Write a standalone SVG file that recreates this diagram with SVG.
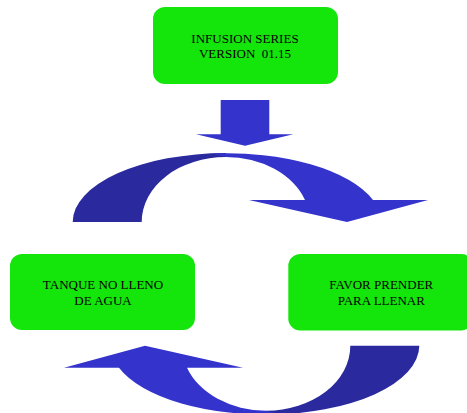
<svg xmlns="http://www.w3.org/2000/svg" xmlns:xlink="http://www.w3.org/1999/xlink" width="467" height="413" viewBox="0 0 467 413">
  <style>
    .box { fill: #14E60C; }
    .label { font-family: "Liberation Serif", "Times New Roman", serif; font-size: 13px; fill: #000; text-anchor: middle; white-space: pre; }
    .bright { fill: #3434CC; }
    .dark { fill: #2A2A9E; }
  </style>
  <defs>
    <!-- curved arrow: back (dark) half and front (bright) half with head -->
    <g id="curved-arrow">
      <path class="dark" d="M 72.7,222 A 154,69 0 0 1 226,153 L 226,157 A 84,65 0 0 0 141.7,222 Z"/>
      <path class="bright" d="M 212,153.6 A 154,69 0 0 1 373,200 L 428,200 L 347,222 L 249,200 L 305,200 A 84,65 0 0 0 226,157 Z"/>
    </g>
  </defs>

  <g id="connectors">
    <path id="down-arrow" class="bright" d="M 220.7,100 L 269.3,100 L 269.3,134.3 L 293.3,134.3 L 245,145.7 L 196,134.3 L 220.7,134.3 Z"/>
    <use id="curve-top" xlink:href="#curved-arrow"/>
    <use id="curve-bottom" xlink:href="#curved-arrow" transform="rotate(180 246 283.85)"/>
  </g>

  <g id="node-infusion">
    <rect class="box" x="153" y="7" width="185" height="77" rx="12" ry="12"/>
    <text class="label" x="245" y="43">INFUSION SERIES</text>
    <text class="label" x="245" y="58">VERSION  01.15</text>
  </g>

  <g id="node-tanque">
    <rect class="box" x="10" y="254" width="185" height="76" rx="12" ry="12"/>
    <text class="label" x="103" y="289">TANQUE NO LLENO</text>
    <text class="label" x="103" y="305">DE AGUA</text>
  </g>

  <g id="node-favor">
    <rect class="box" x="288.3" y="254" width="185" height="76.5" rx="12" ry="12"/>
    <text class="label" x="381.3" y="288.5">FAVOR PRENDER</text>
    <text class="label" x="381.3" y="304.5">PARA LLENAR</text>
  </g>
</svg>
